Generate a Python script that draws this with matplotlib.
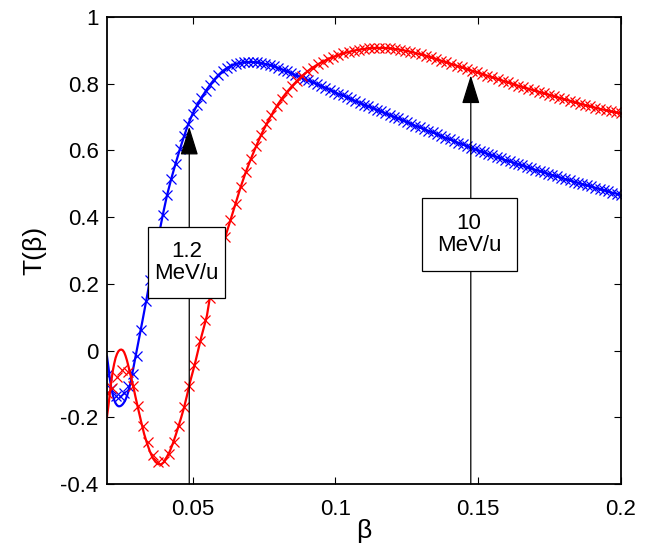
import numpy as np
import matplotlib
matplotlib.use("Agg")
import matplotlib.pyplot as plt
from matplotlib.patches import Rectangle

plt.rcParams['font.family'] = ['Liberation Sans', 'DejaVu Sans']
plt.rcParams['axes.unicode_minus'] = False

# marker samples
blue_step = 0.0015
blue_mk = [-0.072, -0.115, -0.135, -0.137, -0.127, -0.105, -0.07, -0.015, 0.063, 0.148,
           0.21, 0.275, 0.34, 0.405, 0.465, 0.515, 0.56, 0.603, 0.643, 0.68,
           0.71, 0.735, 0.757, 0.777, 0.796, 0.812, 0.826, 0.838, 0.847, 0.854,
           0.859, 0.862, 0.864, 0.865, 0.865, 0.864, 0.862, 0.859, 0.856, 0.852,
           0.847, 0.842, 0.837, 0.832, 0.826, 0.821, 0.815, 0.810, 0.804, 0.799,
           0.793, 0.788, 0.782, 0.776, 0.770, 0.765, 0.759, 0.754, 0.748, 0.743,
           0.737, 0.732, 0.727, 0.722, 0.717, 0.711, 0.706, 0.701, 0.696, 0.690,
           0.685, 0.680, 0.674, 0.669, 0.664, 0.659, 0.654, 0.649, 0.643, 0.638,
           0.633, 0.628, 0.623, 0.618, 0.613, 0.608, 0.603, 0.598, 0.594, 0.589,
           0.585, 0.580, 0.576, 0.571, 0.567, 0.563, 0.559, 0.555, 0.550, 0.546,
           0.542, 0.538, 0.534, 0.530, 0.526, 0.522, 0.518, 0.514, 0.510, 0.506,
           0.503, 0.499, 0.495, 0.492, 0.488, 0.484, 0.481, 0.477, 0.473, 0.470,
           0.466]
red_step = 0.0018
red_mk = [-0.127, -0.112, -0.078, -0.058, -0.065, -0.105, -0.165, -0.225, -0.275, -0.312,
          -0.333, -0.33, -0.31, -0.275, -0.225, -0.17, -0.107, -0.043, 0.03, 0.093,
          0.158, 0.215, 0.275, 0.34, 0.39, 0.44, 0.49, 0.535, 0.575, 0.612,
          0.647, 0.678, 0.706, 0.732, 0.755, 0.775, 0.793, 0.809, 0.824, 0.837,
          0.848, 0.858, 0.866, 0.874, 0.880, 0.886, 0.891, 0.895, 0.899, 0.902,
          0.904, 0.906, 0.907, 0.907, 0.907, 0.906, 0.904, 0.902, 0.899, 0.896,
          0.892, 0.888, 0.884, 0.879, 0.874, 0.869, 0.864, 0.859, 0.854, 0.849,
          0.844, 0.839, 0.834, 0.829, 0.824, 0.819, 0.814, 0.809, 0.804, 0.799,
          0.794, 0.789, 0.785, 0.780, 0.776, 0.771, 0.767, 0.762, 0.758, 0.753,
          0.749, 0.744, 0.740, 0.736, 0.732, 0.728, 0.724, 0.721, 0.717, 0.714,
          0.711]
beta_start = 0.02
blue_beta = beta_start + blue_step * np.arange(len(blue_mk))
red_beta = beta_start + red_step * np.arange(len(red_mk))

# continuous curves at low beta, where they leave the markers
blue_line_beta = [0.0200, 0.0205, 0.0210, 0.0215, 0.0220, 0.0225, 0.0230, 0.0235, 0.0240,
                  0.0245, 0.0250, 0.0255, 0.0260, 0.0265, 0.0270, 0.0275, 0.0280, 0.0285,
                  0.0290, 0.0295, 0.0300, 0.0305, 0.0310, 0.0315, 0.0320, 0.0325, 0.0330,
                  0.0335, 0.0340]
blue_line = [-0.018, -0.05, -0.085, -0.112, -0.132, -0.148, -0.158, -0.164, -0.167,
             -0.167, -0.165, -0.161, -0.155, -0.147, -0.136, -0.122, -0.105, -0.085,
             -0.062, -0.04, -0.018, 0.004, 0.026, 0.048, 0.07, 0.093, 0.116,
             0.139, 0.162]
red_line_beta = [0.0200, 0.0205, 0.0210, 0.0215, 0.0220, 0.0225, 0.0230, 0.0235, 0.0240,
                 0.0245, 0.0250, 0.0255, 0.0260, 0.0265, 0.0270, 0.0275, 0.0280, 0.0285,
                 0.0290, 0.0295, 0.0300, 0.0310, 0.0320, 0.0330, 0.0340, 0.0350, 0.0360,
                 0.0370, 0.0380, 0.0390, 0.0400, 0.0410, 0.0420, 0.0430, 0.0440, 0.0450,
                 0.0460, 0.0470, 0.0480, 0.0490, 0.0500, 0.0510, 0.0520, 0.0530, 0.0540,
                 0.0550]
red_line = [-0.198, -0.165, -0.128, -0.092, -0.062, -0.04, -0.022, -0.01, -0.002,
            0.002, 0.003, 0.001, -0.005, -0.016, -0.03, -0.047, -0.065, -0.083,
            -0.1, -0.12, -0.14, -0.178, -0.215, -0.25, -0.278, -0.302, -0.322,
            -0.334, -0.341, -0.341, -0.334, -0.318, -0.302, -0.28, -0.255, -0.228,
            -0.2, -0.17, -0.135, -0.097, -0.065, -0.032, 0.004, 0.04, 0.072,
            0.105]

arrow_beta = [0.0488, 0.1474]
arrow_tip = [0.671, 0.825]
box_text = ['1.2\nMeV/u', '10\nMeV/u']

fig = plt.figure(figsize=(6.47, 5.46), dpi=100)
ax = fig.add_axes([0.1654, 0.1136, 0.7944, 0.8553])

for mk_beta, mk, lb, lv, col in [(blue_beta, blue_mk, blue_line_beta, blue_line, 'b'),
                                  (red_beta, red_mk, red_line_beta, red_line, 'r')]:
    mk_beta = np.asarray(mk_beta)
    mk = np.asarray(mk)
    keep = mk_beta > max(lb)
    ax.plot(np.concatenate([lb, mk_beta[keep]]), np.concatenate([lv, mk[keep]]),
            color=col, lw=1.6, zorder=2)
    ax.plot(mk_beta, mk, 'x', color=col, ms=7, mew=0.9, zorder=2)

ax.set_xlim(0.02, 0.2)
ax.set_ylim(-0.4, 1)
ax.set_xticks([0.05, 0.1, 0.15, 0.2])
ax.set_xticklabels(['0.05', '0.1', '0.15', '0.2'])
ax.set_yticks([-0.4, -0.2, 0, 0.2, 0.4, 0.6, 0.8, 1])
ax.set_yticklabels(['-0.4', '-0.2', '0', '0.2', '0.4', '0.6', '0.8', '1'])
ax.tick_params(direction='in', length=5, width=0.8, labelsize=16, top=True, right=True)
ax.tick_params(axis='x', pad=11)
ax.tick_params(axis='y', pad=6)
for s in ax.spines.values():
    s.set_linewidth(1.3)
ax.set_xlabel('β', fontsize=19, labelpad=-1)
ax.set_ylabel('T(β)', fontsize=19, labelpad=10)

# arrows from the axis up to the curves
for b, t in zip(arrow_beta, arrow_tip):
    ax.annotate('', xy=(b, t), xytext=(b, -0.4),
                arrowprops=dict(arrowstyle='-|>,head_length=0.9,head_width=0.28',
                                mutation_scale=20, lw=0.9, color='k',
                                shrinkA=0, shrinkB=0), zorder=3)

# text boxes (axes fraction)
boxes = [(0.0803, 0.398, 0.149, 0.153), (0.612, 0.456, 0.1848, 0.157)]
for (x0, y0, w, h), txt in zip(boxes, box_text):
    ax.add_patch(Rectangle((x0, y0), w, h, transform=ax.transAxes, facecolor='white',
                           edgecolor='k', lw=0.9, zorder=4))
    ax.text(x0 + w / 2, y0 + h / 2, txt, transform=ax.transAxes, ha='center',
            va='center', fontsize=16, linespacing=1.1, zorder=5)

fig.savefig('out.png', dpi=100)
